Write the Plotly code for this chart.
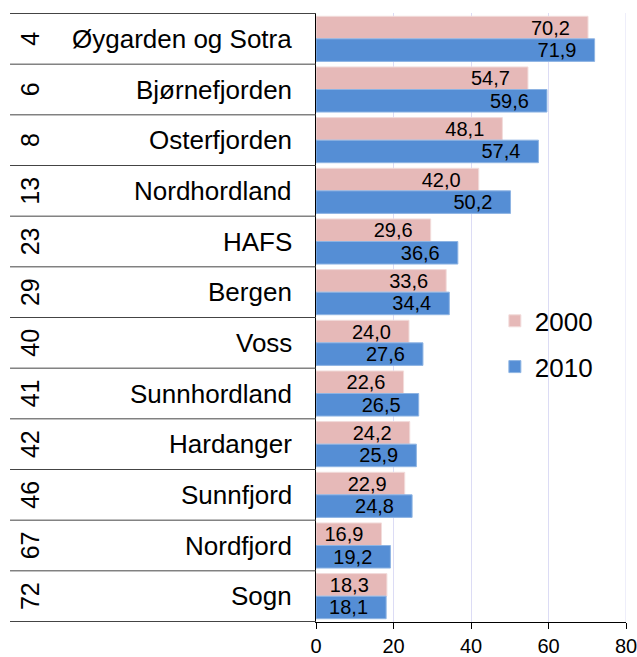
import plotly.graph_objects as go

regions = ["Øygarden og Sotra", "Bjørnefjorden", "Osterfjorden", "Nordhordland", "HAFS",
           "Bergen", "Voss", "Sunnhordland", "Hardanger", "Sunnfjord", "Nordfjord", "Sogn"]
ranks = ["4", "6", "8", "13", "23", "29", "40", "41", "42", "46", "67", "72"]
values_2000 = [70.2, 54.7, 48.1, 42.0, 29.6, 33.6, 24.0, 22.6, 24.2, 22.9, 16.9, 18.3]
values_2010 = [71.9, 59.6, 57.4, 50.2, 36.6, 34.4, 27.6, 26.5, 25.9, 24.8, 19.2, 18.1]
x_ticks = [0, 20, 40, 60, 80]

FONT = "Liberation Sans, Arial, sans-serif"
LABEL = "%{x:.1f}\u00a0\u00a0\u2009"
GRID = "#DCDCF5"

fig = go.Figure()
fig.add_trace(go.Bar(
    y=regions, x=values_2000, orientation="h", name="2000", legendgroup="a",
    marker=dict(color="#E6B9B8", line=dict(color="#F2DCDB", width=1)),
    texttemplate=LABEL, textposition="inside", insidetextanchor="end",
    textfont=dict(size=20, color="black", family=FONT), constraintext="none",
))
fig.add_trace(go.Bar(
    y=regions, x=values_2010, orientation="h", name="2010", legendgroup="b",
    marker=dict(color="#558ED5", line=dict(color="#8EB4E3", width=1)),
    texttemplate=LABEL, textposition="inside", insidetextanchor="end",
    textfont=dict(size=20, color="black", family=FONT), constraintext="none",
))

annotations = []
shapes = []
n = len(regions)
for i, (reg, rk) in enumerate(zip(regions, ranks)):
    annotations.append(dict(x=-0.071, y=i, xref="paper", yref="y", text=reg,
                            showarrow=False, xanchor="right", yanchor="middle",
                            font=dict(size=26, color="black", family=FONT)))
    annotations.append(dict(x=-0.923, y=i, xref="paper", yref="y", text=rk,
                            showarrow=False, xanchor="center", yanchor="middle", textangle=-90,
                            font=dict(size=25, color="black", family=FONT)))
for i in range(n + 1):
    shapes.append(dict(type="line", xref="paper", yref="y", x0=-0.987, x1=0,
                       y0=i - 0.5, y1=i - 0.5, line=dict(color="#444444", width=1)))
# gridline at the right edge of the value axis
shapes.append(dict(type="line", xref="x", yref="paper", x0=x_ticks[-1], x1=x_ticks[-1],
                   y0=0, y1=1, line=dict(color=GRID, width=1), layer="below"))

fig.update_layout(
    width=637, height=657,
    margin=dict(l=316, r=11, t=13, b=35, autoexpand=False),
    paper_bgcolor="white", plot_bgcolor="white",
    barmode="group", bargap=0.11, bargroupgap=0,
    separators=", ",
    uniformtext=dict(minsize=20, mode="show"),
    font=dict(family=FONT, color="black"),
    showlegend=True,
    legend=dict(x=0.577, y=0.533, xanchor="left", yanchor="top",
                traceorder="grouped", tracegroupgap=9,
                font=dict(size=26, color="black", family=FONT),
                bgcolor="rgba(0,0,0,0)", itemwidth=30),
    xaxis=dict(range=[0, 80], tickvals=x_ticks, ticktext=[str(v) for v in x_ticks],
               showgrid=True, gridcolor=GRID, gridwidth=1,
               showline=True, linecolor="black", linewidth=1,
               ticks="outside", ticklen=6, tickcolor="black",
               tickfont=dict(size=20, color="black", family=FONT),
               ticklabeloverflow="allow", automargin=False,
               zeroline=False, fixedrange=True),
    yaxis=dict(categoryorder="array", categoryarray=regions, autorange="reversed",
               showticklabels=False, showgrid=False, zeroline=False,
               showline=True, linecolor="black", linewidth=1, ticks="",
               automargin=False, range=[n - 0.5, -0.5], fixedrange=True),
    annotations=annotations, shapes=shapes,
)

fig.write_html(
    "out.html",
    config={"displayModeBar": False, "staticPlot": True},
    post_script="document.body.style.margin='0';document.documentElement.style.overflow='hidden';",
)
